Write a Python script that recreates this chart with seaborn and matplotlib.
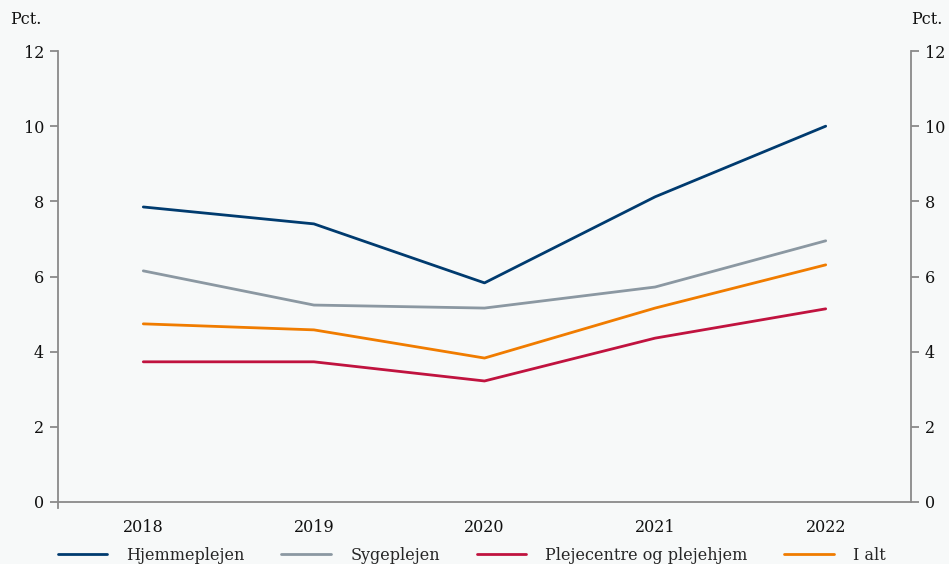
import matplotlib
matplotlib.use("Agg")
import matplotlib.pyplot as plt
import seaborn as sns
import pandas as pd

years = ["2018", "2019", "2020", "2021", "2022"]
hjemmeplejen = [7.85, 7.40, 5.83, 8.12, 10.0]
sygeplejen = [6.15, 5.24, 5.16, 5.72, 6.95]
plejecentre = [3.73, 3.73, 3.22, 4.36, 5.14]
i_alt = [4.74, 4.58, 3.83, 5.16, 6.31]
series_names = ["Hjemmeplejen", "Sygeplejen", "Plejecentre og plejehjem", "I alt"]
colors = ["#003b6f", "#8b98a2", "#c0133f", "#f07c00"]

df = pd.DataFrame({
    "year": years * 4,
    "value": hjemmeplejen + sygeplejen + plejecentre + i_alt,
    "series": [s for s in series_names for _ in years],
})

sns.set_theme(style="white")
plt.rcParams["font.family"] = ["DejaVu Serif"]
bg = "#f7f9f9"
fig = plt.figure(figsize=(9.49, 5.64), dpi=100, facecolor=bg)
ax = fig.add_axes([58/949, 1-502/564, (911-58)/949, (502-51)/564])
ax.set_facecolor(bg)

sns.lineplot(data=df, x="year", y="value", hue="series", palette=colors,
             hue_order=series_names, linewidth=2, ax=ax, sort=False)

ax.set_xlim(-0.5, 4.5)
ax.set_ylim(0, 12)
ax.set_yticks(range(0, 13, 2))
ax.set_xlabel("")
ax.set_ylabel("")
spine_c = "#8a8a8a"
ax.spines["top"].set_visible(False)
for s in ["left", "right", "bottom"]:
    ax.spines[s].set_color(spine_c)
    ax.spines[s].set_linewidth(1.3)
ax.spines["left"].set_bounds(-0.15, 12)
ax.tick_params(axis="y", which="both", left=True, right=True, labelleft=True,
               labelright=True, direction="out", length=6, width=1.3,
               color=spine_c, labelsize=11.5, pad=4)
ax.tick_params(axis="x", bottom=False, labelsize=11.5, pad=6)
for lab in ax.get_xticklabels() + ax.get_yticklabels():
    lab.set_color("#111111")

fig.text(10/949, 1-19/564, "Pct.", fontsize=11.5, va="center", ha="left", color="#111111")
fig.text(942/949, 1-19/564, "Pct.", fontsize=11.5, va="center", ha="right", color="#111111")

handles, labels = ax.get_legend_handles_labels()
ax.legend(handles, labels, loc="upper center", bbox_to_anchor=(0.485, -0.085),
          ncol=4, frameon=False, fontsize=11.5, handlelength=3.1,
          handletextpad=1.2, columnspacing=2.3, borderaxespad=0)

fig.savefig("out.png", dpi=100, facecolor=bg)
